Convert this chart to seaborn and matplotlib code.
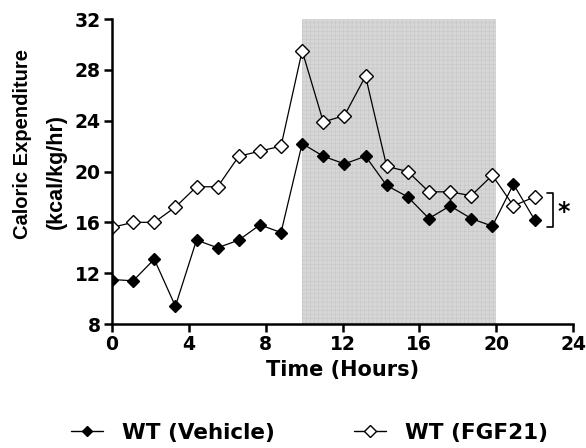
import numpy as np
import pandas as pd
import seaborn as sns
import matplotlib.pyplot as plt
from matplotlib.lines import Line2D

# hours (1.1 h bins)
hours = [0, 1.1, 2.2, 3.3, 4.4, 5.5, 6.6, 7.7, 8.8, 9.9, 11.0,
         12.1, 13.2, 14.3, 15.4, 16.5, 17.6, 18.7, 19.8, 20.9, 22.0]
vehicle = [11.5, 11.4, 13.1, 9.4, 14.6, 14.0, 14.6, 15.8, 15.2, 22.2, 21.2,
           20.6, 21.2, 18.9, 18.0, 16.3, 17.3, 16.3, 15.7, 19.0, 16.2]
fgf21 = [15.6, 16.0, 16.0, 17.2, 18.8, 18.8, 21.2, 21.6, 22.0, 29.5, 23.9,
         24.4, 27.5, 20.4, 20.0, 18.4, 18.4, 18.1, 19.7, 17.3, 18.0]
dark_start, dark_end = 9.9, 20.0

sns.set_theme(style="ticks")
plt.rcParams['font.family'] = ['DejaVu Sans']
plt.rcParams['font.weight'] = 'bold'
plt.rcParams['text.color'] = 'black'
plt.rcParams['axes.labelcolor'] = 'black'
plt.rcParams['hatch.linewidth'] = 0.3

W, H = 586, 448
fig = plt.figure(figsize=(W / 100, H / 100), dpi=100)
ax = fig.add_axes([112 / W, 1 - 324 / H, (573 - 112) / W, (324 - 19) / H])

# dark phase, grey with a fine grid texture
ax.axvspan(dark_start, dark_end, facecolor='#d6d6d6', edgecolor='#c2c2c2',
           hatch='++++', lw=0, zorder=0)

df = pd.DataFrame({'hours': hours, 'vehicle': vehicle, 'fgf21': fgf21})
sns.lineplot(data=df, x='hours', y='vehicle', ax=ax, color='black', lw=0.9,
             marker='D', markersize=6.5, mfc='black', mec='black', mew=1)
sns.lineplot(data=df, x='hours', y='fgf21', ax=ax, color='black', lw=0.9,
             marker='D', markersize=7, mfc='white', mec='black', mew=1)

# significance bracket
ax.plot([22.65, 22.97, 22.97, 22.65], [18.3, 18.3, 15.6, 15.6],
        color='black', lw=1.2, clip_on=False)
ax.text(23.2, 16.8, '*', fontsize=17, fontweight='bold', va='center',
        ha='left')

ax.set_xlim(0, 24)
ax.set_ylim(8, 32)
ax.set_xticks(range(0, 25, 4))
ax.set_yticks(range(8, 33, 4))
ax.tick_params(labelsize=13.5, width=1.8, length=6, pad=2, color='black',
               labelcolor='black')
for s in ['left', 'bottom']:
    ax.spines[s].set_linewidth(1.8)
    ax.spines[s].set_color('black')
sns.despine(ax=ax)

ax.set_xlabel('Time (Hours)', fontsize=15, fontweight='bold', labelpad=4)
ax.set_ylabel('')
fig.text(22 / W, 1 - 144 / H, 'Caloric Expenditure', rotation=90,
         ha='center', va='center', fontsize=14.5, fontweight='bold',
         family='Liberation Sans')
fig.text(56 / W, 1 - 171 / H, '(kcal/kg/hr)', rotation=90,
         ha='center', va='center', fontsize=15.5, fontweight='bold',
         family='Liberation Sans')

handles = [
    Line2D([], [], color='black', lw=1, marker='D', markersize=5.5,
           mfc='black', mec='black'),
    Line2D([], [], color='black', lw=1, marker='D', markersize=6,
           mfc='white', mec='black'),
]
fig.legend(handles, ['WT (Vehicle)', 'WT (FGF21)'], loc='center left',
           bbox_to_anchor=(71 / W, 1 - 433 / H), ncol=2, frameon=False,
           prop={'size': 15.5, 'weight': 'bold'}, columnspacing=3.7,
           handlelength=1.5, handletextpad=0.85, borderpad=0,
           borderaxespad=0)

fig.savefig('out.png', dpi=100)
